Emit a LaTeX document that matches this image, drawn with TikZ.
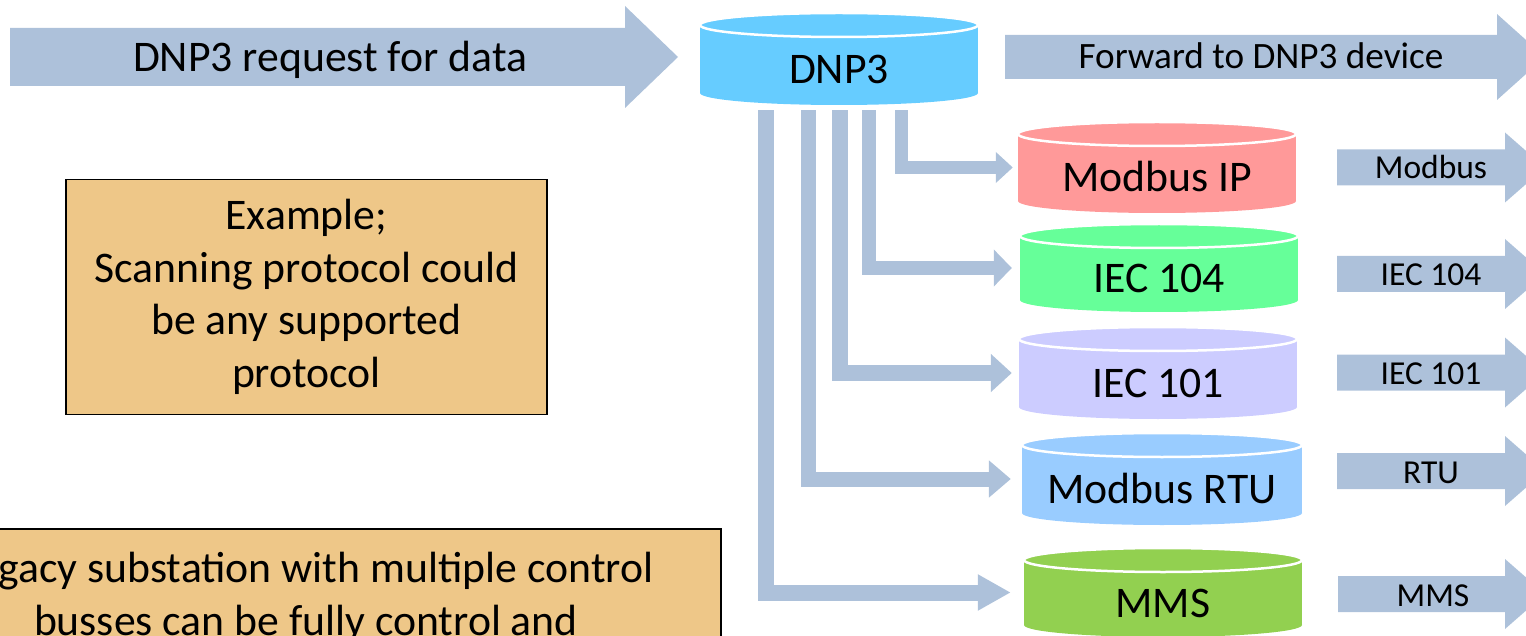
\documentclass[tikz,border=0pt]{standalone}
\usepackage{fontspec}
\setmainfont{Carlito}
\usetikzlibrary{arrows.meta,calc}
\definecolor{arrowblue}{RGB}{173,193,218}
\definecolor{notetan}{RGB}{238,199,136}
\definecolor{cdnp}{RGB}{102,204,255}
\definecolor{cmip}{RGB}{255,153,153}
\definecolor{cfour}{RGB}{102,255,153}
\definecolor{cone}{RGB}{204,204,255}
\definecolor{crtu}{RGB}{153,204,255}
\definecolor{cmms}{RGB}{146,208,80}
\tikzset{
  bigfont/.style={font=\fontsize{43.7}{52.5}\selectfont},
  midfont/.style={font=\fontsize{37.2}{44}\selectfont},
  smallfont/.style={font=\fontsize{33.5}{40}\selectfont},
  lbl/.style={inner sep=0pt, anchor=base},
  notebox/.style={draw=black, line width=1.8pt, fill=notetan, bigfont, align=center, inner sep=0pt},
  feed/.style={draw=arrowblue, line width=15pt, -{Triangle[length=22pt,width=36pt]}},
}
% name, cx, top, bottom, halfwidth, colour, text
\newcommand\mycyl[7]{%
  \fill[#6] (#2-#5, #3+12) rectangle (#2+#5, #4-12);
  \fill[#6] (#2, #4-12) ellipse [x radius=#5, y radius=12];
  \filldraw[fill=#6, draw=white, line width=2.5pt] (#2, #3+12) ellipse [x radius=#5, y radius=12];
  \node[minimum width=2*#5, minimum height=#4-#3, inner sep=0pt] (#1) at (#2, {(#3+#4)/2}) {};
  \node[lbl, bigfont] (#1t) at (#2, {(#3+#4)/2+24.5}) {#7};
}
% x0, head base, tip, ymid, shaft half, head half
\newcommand\blockarrow[6]{%
  \fill[arrowblue] (#1, #4-#5) -- (#2, #4-#5) -- (#2, #4-#6) -- (#3, #4) -- (#2, #4+#6) -- (#2, #4+#5) -- (#1, #4+#5) -- cycle;
}
\begin{document}
\begin{tikzpicture}[x=1pt,y=-1pt]
\useasboundingbox (0,0) rectangle (1526,636);
\clip (0,0) rectangle (1526,636);

% incoming request arrow
\blockarrow{10}{625}{678}{57}{29}{51}
\node[lbl, bigfont] (req) at (330,72) {DNP3 request for data};

% forward arrow
\blockarrow{1005}{1497}{1545}{57}{22}{43}
\node[lbl, midfont] (fwd) at (1261,69) {Forward to DNP3 device};

% cylinders
\mycyl{dnp}{839}{13}{105}{139}{cdnp}{DNP3}
\mycyl{mip}{1157}{122}{213}{139}{cmip}{Modbus IP}
\mycyl{ifour}{1159}{224}{312}{139}{cfour}{IEC 104}
\mycyl{ione}{1158}{327}{419}{139}{cone}{IEC 101}
\mycyl{rtu}{1162}{433}{525}{140}{crtu}{Modbus RTU}
\mycyl{mms}{1163}{548}{637}{139}{cmms}{MMS}

% output arrows
\blockarrow{1337}{1505}{1545}{167.5}{18}{35}
\node[lbl, smallfont] (omip) at (1431,179) {Modbus};
\blockarrow{1337}{1505}{1545}{274}{18}{35}
\node[lbl, smallfont] (ofour) at (1431,286) {IEC 104};
\blockarrow{1337}{1505}{1545}{372.5}{18}{35}
\node[lbl, smallfont] (oone) at (1431,384) {IEC 101};
\blockarrow{1337}{1505}{1545}{471}{18}{35}
\node[lbl, smallfont] (ortu) at (1431,483) {RTU};
\blockarrow{1338}{1505}{1545}{594}{18}{35}
\node[lbl, smallfont] (omms) at (1433,606) {MMS};

% distribution arrows from DNP3
\coordinate (s1) at ($(dnp.south)+(-73,5)$);
\coordinate (s2) at ($(dnp.south)+(-31,5)$);
\coordinate (s3) at ($(dnp.south)+(1,5)$);
\coordinate (s4) at ($(dnp.south)+(30,5)$);
\coordinate (s5) at ($(dnp.south)+(62,5)$);
\draw[feed, line width=13pt, -{Triangle[length=17pt,width=30pt]}] (s5) |- ([xshift=-5pt]mip.west);
\draw[feed, line width=14pt, -{Triangle[length=18pt,width=36pt]}] (s4) |- ([xshift=-8pt]ifour.west);
\draw[feed, line width=16pt, -{Triangle[length=21pt,width=37pt]}] (s3) |- ([xshift=-7pt]ione.west);
\draw[feed] (s2) |- ([xshift=-11pt]rtu.west);
\draw[feed, line width=16pt, -{Triangle[length=33pt,width=34pt]}] (s1) |- ([xshift=-13pt]mms.west);

% notes
\node[notebox, minimum width=481pt, minimum height=235pt] (example) at (306.5,297)
  {Example;\\Scanning protocol could\\be any supported\\protocol};
\node[notebox, minimum width=830pt, minimum height=137pt, anchor=north] (legacy) at (306,528)
  {Legacy substation with multiple control\\busses can be fully control and};
\end{tikzpicture}
\end{document}
